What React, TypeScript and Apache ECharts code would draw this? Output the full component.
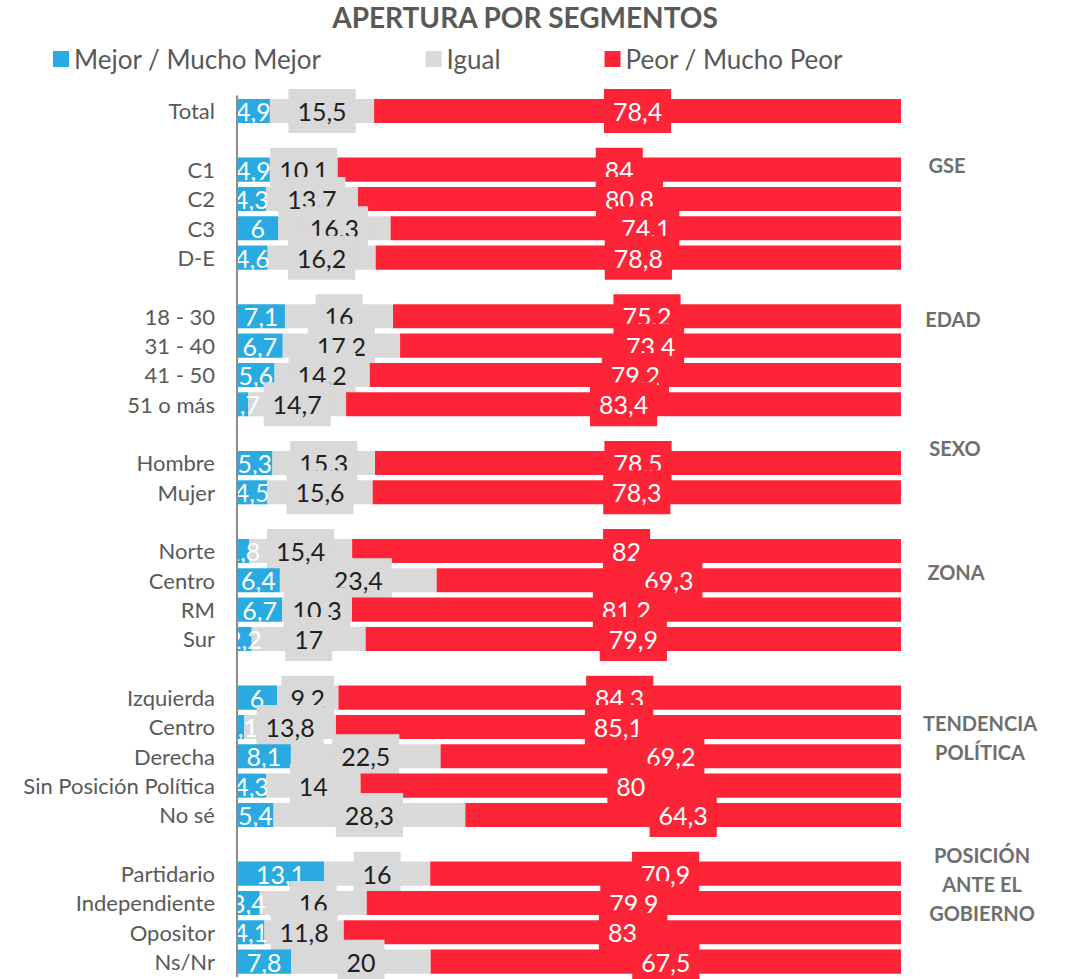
import React, { useEffect, useRef } from "react";
import * as echarts from "echarts";

const categories = [
  "Total", "",
  "C1", "C2", "C3", "D-E", "",
  "18 - 30", "31 - 40", "41 - 50", "51 o más", "",
  "Hombre", "Mujer", "",
  "Norte", "Centro", "RM", "Sur", "",
  "Izquierda", "Centro", "Derecha", "Sin Posición Política", "No sé", "",
  "Partidario", "Independiente", "Opositor", "Ns/Nr",
];

const mejor = [4.9, null, 4.9, 4.3, 6, 4.6, null, 7.1, 6.7, 5.6, 1.7, null, 5.3, 4.5, null, 1.8, 6.4, 6.7, 2.2, null, 6, 1.1, 8.1, 4.3, 5.4, null, 13.1, 3.4, 4.1, 7.8];
const igual = [15.5, null, 10.1, 13.7, 16.3, 16.2, null, 16, 17.2, 14.2, 14.7, null, 15.3, 15.6, null, 15.4, 23.4, 10.3, 17, null, 9.2, 13.8, 22.5, 14, 28.3, null, 16, 16, 11.8, 20];
const peor = [78.4, null, 84, 80.8, 74.1, 78.8, null, 75.2, 73.4, 79.2, 83.4, null, 78.5, 78.3, null, 82, 69.3, 81.2, 79.9, null, 84.3, 85.1, 69.2, 80, 64.3, null, 70.9, 79.9, 83, 67.5];

const seriesNames = ["Mejor / Mucho Mejor", "Igual", "Peor / Mucho Peor"];
const colors = ["#29ABE2", "#D9D9D9", "#FC2436"];

const groupLabels = [
  { text: "GSE", x: 947, y: 165 },
  { text: "EDAD", x: 953, y: 319 },
  { text: "SEXO", x: 955, y: 448 },
  { text: "ZONA", x: 956, y: 572 },
  { text: "TENDENCIA\nPOLÍTICA", x: 980, y: 737.5 },
  { text: "POSICIÓN\nANTE EL\nGOBIERNO", x: 982, y: 883.5 },
];

const fmt = (v: number) => String(v).replace(".", ",");
const FONT = "Lato, 'Open Sans', sans-serif";

export default function App() {
  const ref = useRef<HTMLDivElement>(null);
  useEffect(() => {
    if (!ref.current) return;
    const chart = echarts.init(ref.current, undefined, { renderer: "svg" });

    const rows: any[] = [];
    categories.forEach((_, i) => {
      if (mejor[i] != null) rows.push([i, mejor[i], igual[i], peor[i]]);
    });

    const renderItem = (_params: any, api: any) => {
      const row = api.value(0);
      const vals = [api.value(1), api.value(2), api.value(3)];
      const tot = vals[0] + vals[1] + vals[2];
      const cum = [0, (vals[0] / tot) * 100, ((vals[0] + vals[1]) / tot) * 100, 100];
      const xs = cum.map((c) => api.coord([c, row])[0]);
      const cy = api.coord([0, row])[1];
      const band = api.size([0, 1])[1];
      const h = band * 0.82;
      const children: any[] = [];
      for (let k = 0; k < 3; k++) {
        children.push({
          type: "rect",
          shape: { x: xs[k], y: cy - h / 2, width: xs[k + 1] - xs[k], height: h },
          style: { fill: colors[k] },
        });
      }
      // blue label (white text, no box)
      children.push({
        type: "text",
        x: (xs[0] + xs[1]) / 2,
        y: cy,
        style: {
          text: fmt(vals[0]),
          fill: "#FFFFFF",
          fontSize: 25,
          fontFamily: FONT,
          align: "center",
          verticalAlign: "middle",
        },
      });
      // mask left of the axis
      children.push({
        type: "rect",
        shape: { x: xs[0] - 22, y: cy - band / 2, width: 21, height: band },
        style: { fill: "#FFFFFF" },
      });
      const boxColors = ["#1F1F1F", "#FFFFFF"];
      for (let k = 1; k < 3; k++) {
        children.push({
          type: "text",
          x: (xs[k] + xs[k + 1]) / 2,
          y: cy,
          style: {
            text: fmt(vals[k]),
            fill: boxColors[k - 1],
            fontSize: 25,
            fontFamily: FONT,
            align: "center",
            verticalAlign: "middle",
            backgroundColor: colors[k],
            padding: [9, 9],
            lineHeight: 26,
          },
        });
      }
      return { type: "group", children };
    };

    chart.setOption({
      animation: false,
      title: {
        text: "APERTURA POR SEGMENTOS",
        left: 520,
        textAlign: "center",
        top: -2,
        textStyle: { fontSize: 28, fontWeight: "bold", color: "#595959", fontFamily: FONT },
      },
      legend: {
        left: 48,
        top: 41,
        icon: "rect",
        itemWidth: 16,
        itemHeight: 16,
        itemGap: 104,
        textStyle: { fontSize: 26, color: "#595959", fontFamily: FONT },
        data: seriesNames,
      },
      grid: { left: 237, right: 165, top: 96.3, bottom: 2.7, containLabel: false },
      xAxis: { type: "value", min: 0, max: 100, show: false },
      yAxis: {
        type: "category",
        inverse: true,
        data: categories,
        z: 3,
        axisTick: { show: false },
        axisLine: { show: true, lineStyle: { color: "#8C8C8C", width: 2 } },
        axisLabel: { fontSize: 22, color: "#595959", margin: 22, fontFamily: FONT, interval: 0 },
        splitLine: { show: false },
      },
      graphic: groupLabels.map((g) => ({
        type: "text",
        x: g.x,
        y: g.y,
        style: {
          text: g.text,
          fill: "#6E6E6E",
          fontSize: 20,
          fontWeight: "bold",
          fontFamily: FONT,
          align: "center",
          verticalAlign: "middle",
          lineHeight: 29,
        },
      })),
      series: [
        ...seriesNames.map((n, i) => ({
          type: "bar",
          name: n,
          data: [],
          itemStyle: { color: colors[i] },
        })),
        {
          type: "custom",
          name: "rows",
          renderItem,
          encode: { y: 0, x: [1, 2, 3] },
          data: rows,
          z: 2,
        },
      ],
    });
    return () => chart.dispose();
  }, []);
  return (
    <div
      ref={ref}
      style={{ position: "fixed", left: 0, top: 0, width: "1066px", height: "979px", background: "#fff" }}
    />
  );
}
